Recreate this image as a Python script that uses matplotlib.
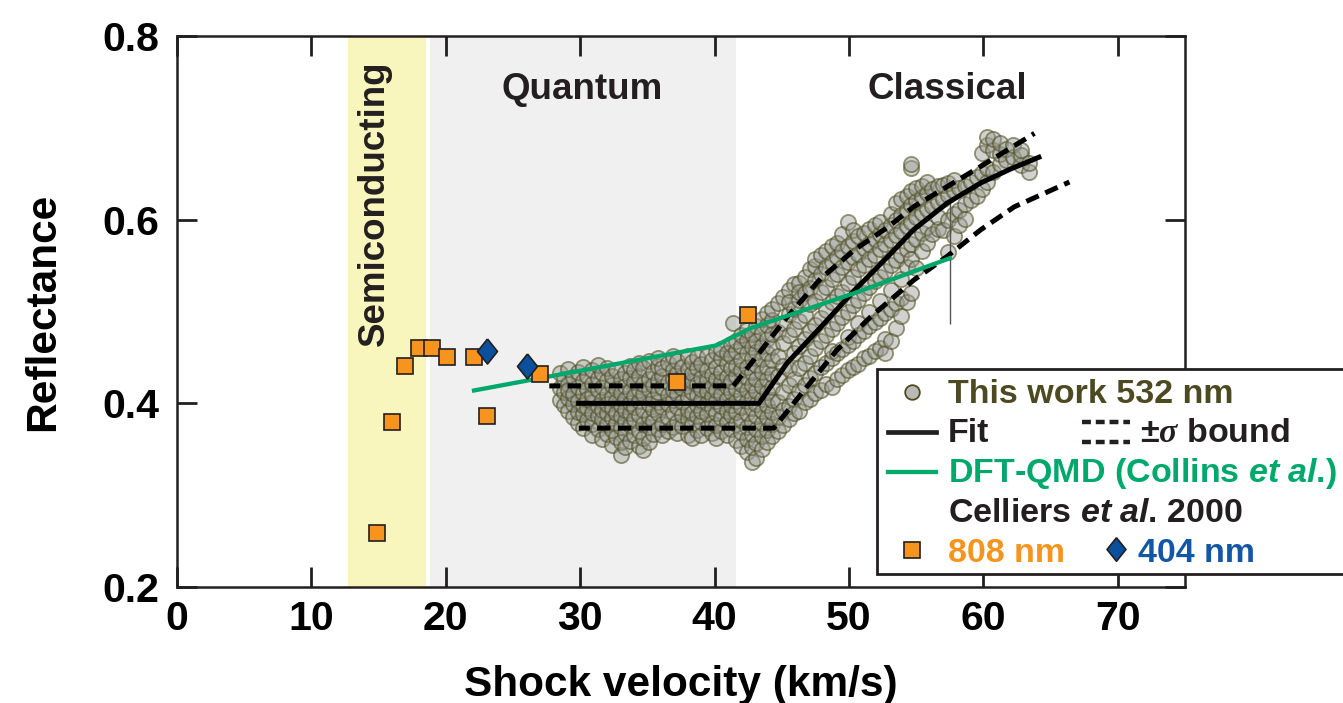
import matplotlib
matplotlib.use("Agg")
import matplotlib.pyplot as plt
from matplotlib.lines import Line2D
from matplotlib.patches import Rectangle

plt.rcParams['font.family'] = ['Liberation Sans', 'DejaVu Sans']
plt.rcParams['font.weight'] = 'bold'
plt.rcParams['mathtext.fontset'] = 'custom'
plt.rcParams['mathtext.rm'] = 'Liberation Sans:bold'
plt.rcParams['mathtext.sf'] = 'Liberation Sans:italic:bold'
plt.rcParams['mathtext.it'] = 'Liberation Serif:italic:bold'

# ---- data -----------------------------------------------------------------
# This work, 532 nm: reflectance samples grouped by shock velocity (km/s)
this_work_cols = [
    (28.5, [0.404, 0.417, 0.433]),
    (28.8, [0.398, 0.426, 0.412]),
    (29.1, [0.392, 0.406, 0.421, 0.437, 0.415]),
    (29.5, [0.385, 0.399, 0.429, 0.410]),
    (29.8, [0.379, 0.403, 0.418, 0.434, 0.391]),
    (30.2, [0.373, 0.388, 0.411, 0.424, 0.440, 0.398]),
    (30.5, [0.382, 0.395, 0.416, 0.430, 0.405]),
    (30.9, [0.366, 0.378, 0.401, 0.409, 0.421, 0.436, 0.390]),
    (31.3, [0.372, 0.386, 0.397, 0.414, 0.428, 0.442]),
    (31.6, [0.361, 0.383, 0.404, 0.418, 0.433, 0.393]),
    (32.0, [0.367, 0.377, 0.389, 0.410, 0.425, 0.439, 0.399]),
    (32.4, [0.355, 0.371, 0.384, 0.395, 0.407, 0.420, 0.430]),
    (32.7, [0.363, 0.379, 0.402, 0.416, 0.436, 0.390]),
    (33.0, [0.344, 0.358, 0.374, 0.386, 0.398, 0.411, 0.427]),
    (33.3, [0.352, 0.368, 0.381, 0.405, 0.419, 0.433, 0.393]),
    (33.7, [0.359, 0.376, 0.389, 0.400, 0.413, 0.428, 0.441]),
    (34.0, [0.365, 0.383, 0.396, 0.408, 0.423, 0.436]),
    (34.4, [0.354, 0.370, 0.387, 0.402, 0.415, 0.430, 0.444]),
    (34.7, [0.349, 0.362, 0.378, 0.393, 0.410, 0.421, 0.438]),
    (35.1, [0.358, 0.374, 0.385, 0.399, 0.416, 0.427, 0.446]),
    (35.4, [0.367, 0.381, 0.394, 0.405, 0.420, 0.434]),
    (35.8, [0.372, 0.389, 0.401, 0.412, 0.425, 0.441, 0.449]),
    (36.1, [0.365, 0.378, 0.396, 0.418, 0.430, 0.438]),
    (36.5, [0.370, 0.385, 0.399, 0.409, 0.423, 0.444]),
    (36.9, [0.374, 0.391, 0.404, 0.415, 0.427, 0.436, 0.451]),
    (37.2, [0.368, 0.380, 0.396, 0.410, 0.421, 0.433, 0.446]),
    (37.6, [0.375, 0.387, 0.401, 0.417, 0.429, 0.440]),
    (38.0, [0.366, 0.383, 0.393, 0.407, 0.419, 0.437, 0.452]),
    (38.3, [0.362, 0.377, 0.390, 0.412, 0.424, 0.433, 0.445]),
    (38.7, [0.371, 0.386, 0.398, 0.409, 0.421, 0.439, 0.450]),
    (39.0, [0.366, 0.380, 0.392, 0.404, 0.416, 0.428, 0.443]),
    (39.4, [0.373, 0.388, 0.400, 0.413, 0.425, 0.436, 0.452]),
    (39.8, [0.368, 0.379, 0.395, 0.408, 0.419, 0.431, 0.447]),
    (40.1, [0.362, 0.376, 0.390, 0.403, 0.414, 0.427, 0.440, 0.456]),
    (40.5, [0.370, 0.384, 0.397, 0.410, 0.423, 0.434, 0.449, 0.459]),
    (40.9, [0.365, 0.380, 0.392, 0.405, 0.418, 0.429, 0.443, 0.455]),
    (41.2, [0.372, 0.387, 0.398, 0.412, 0.424, 0.438, 0.451, 0.465]),
    (41.4, [0.487]),
    (41.6, [0.360, 0.377, 0.391, 0.403, 0.416, 0.430, 0.441, 0.457, 0.468]),
    (42.0, [0.353, 0.369, 0.382, 0.396, 0.409, 0.421, 0.436, 0.447, 0.462, 0.474]),
    (42.4, [0.347, 0.361, 0.374, 0.389, 0.402, 0.414, 0.429, 0.440, 0.455, 0.469, 0.480]),
    (42.8, [0.336, 0.352, 0.367, 0.380, 0.395, 0.407, 0.420, 0.434, 0.449, 0.461, 0.476]),
    (43.1, [0.341, 0.357, 0.372, 0.386, 0.399, 0.413, 0.427, 0.442, 0.456, 0.468, 0.484]),
    (43.5, [0.350, 0.364, 0.379, 0.392, 0.405, 0.419, 0.434, 0.448, 0.462, 0.477, 0.492]),
    (43.9, [0.358, 0.371, 0.385, 0.398, 0.412, 0.426, 0.440, 0.455, 0.470, 0.485, 0.498]),
    (44.3, [0.364, 0.378, 0.391, 0.404, 0.418, 0.432, 0.447, 0.461, 0.476, 0.491, 0.503]),
    (44.7, [0.370, 0.385, 0.401, 0.430, 0.452, 0.478, 0.509]),
    (45.1, [0.376, 0.393, 0.412, 0.441, 0.466, 0.488, 0.516]),
    (45.5, [0.383, 0.397, 0.420, 0.437, 0.474, 0.497, 0.523, 0.510]),
    (45.9, [0.389, 0.405, 0.426, 0.455, 0.481, 0.503, 0.530]),
    (46.3, [0.392, 0.413, 0.438, 0.462, 0.490, 0.512, 0.531, 0.521]),
    (46.7, [0.401, 0.420, 0.444, 0.470, 0.496, 0.520, 0.538]),
    (47.1, [0.405, 0.428, 0.452, 0.479, 0.508, 0.526, 0.546]),
    (47.5, [0.411, 0.433, 0.460, 0.485, 0.511, 0.534, 0.550, 0.557]),
    (47.9, [0.414, 0.440, 0.468, 0.493, 0.521, 0.541, 0.561]),
    (48.3, [0.421, 0.444, 0.474, 0.502, 0.527, 0.548, 0.566]),
    (48.7, [0.418, 0.449, 0.457, 0.481, 0.510, 0.535, 0.554, 0.571]),
    (49.1, [0.427, 0.455, 0.488, 0.517, 0.541, 0.559, 0.575]),
    (49.5, [0.431, 0.459, 0.494, 0.521, 0.548, 0.566, 0.584]),
    (49.9, [0.436, 0.463, 0.472, 0.499, 0.531, 0.554, 0.571, 0.598]),
    (50.3, [0.440, 0.468, 0.507, 0.538, 0.559, 0.577, 0.589]),
    (50.7, [0.443, 0.474, 0.488, 0.513, 0.546, 0.563, 0.582]),
    (51.1, [0.449, 0.479, 0.520, 0.551, 0.569, 0.586]),
    (51.5, [0.451, 0.484, 0.499, 0.527, 0.557, 0.574, 0.590]),
    (51.9, [0.457, 0.489, 0.533, 0.562, 0.579, 0.594]),
    (52.3, [0.460, 0.493, 0.511, 0.538, 0.568, 0.584, 0.597]),
    (52.7, [0.455, 0.470, 0.498, 0.544, 0.573, 0.589]),
    (53.1, [0.468, 0.503, 0.523, 0.551, 0.578, 0.594, 0.606]),
    (53.5, [0.482, 0.509, 0.556, 0.583, 0.600, 0.618]),
    (53.9, [0.495, 0.515, 0.535, 0.562, 0.588, 0.605, 0.622]),
    (54.3, [0.510, 0.548, 0.568, 0.593, 0.611, 0.626]),
    (54.6, [0.520, 0.557, 0.574, 0.598, 0.616, 0.631, 0.656, 0.661]),
    (55.0, [0.547, 0.579, 0.603, 0.620, 0.634]),
    (55.4, [0.566, 0.586, 0.607, 0.625, 0.637]),
    (55.8, [0.575, 0.592, 0.612, 0.629, 0.641]),
    (56.2, [0.584, 0.615, 0.633]),
    (56.6, [0.590, 0.603, 0.619, 0.637]),
    (57.0, [0.589, 0.623, 0.638]),
    (57.4, [0.565, 0.600, 0.627, 0.640]),
    (57.8, [0.582, 0.606, 0.631, 0.643]),
    (58.2, [0.594, 0.611, 0.634]),
    (58.6, [0.601, 0.617, 0.637]),
    (59.1, [0.621, 0.641]),
    (59.5, [0.626, 0.646]),
    (59.9, [0.633, 0.651, 0.673]),
    (60.3, [0.641, 0.656, 0.681, 0.690]),
    (60.7, [0.652, 0.676, 0.688]),
    (61.2, [0.661, 0.672, 0.684]),
    (61.7, [0.665, 0.677]),
    (62.2, [0.668, 0.681]),
    (62.8, [0.660, 0.670, 0.676]),
    (63.4, [0.652, 0.662]),
]
this_work_x = [x for x, ys in this_work_cols for _ in ys]
this_work_y = [y for _, ys in this_work_cols for y in ys]

# Fit and +/- sigma bounds
fit_x = [29.7, 43.3, 45.4, 47.9, 50.4, 52.9, 54.8, 57.3, 59.8, 62.0, 64.3]
fit_y = [0.400, 0.400, 0.444, 0.483, 0.523, 0.560, 0.589, 0.618, 0.640, 0.655, 0.669]
upper_x = [27.7, 41.4, 42.9, 45.4, 47.9, 50.4, 52.9, 54.8, 57.3, 59.8, 63.8]
upper_y = [0.419, 0.419, 0.447, 0.494, 0.536, 0.567, 0.592, 0.614, 0.636, 0.658, 0.694]
lower_x = [29.9, 44.4, 46.65, 49.1, 51.6, 54.8, 57.3, 59.8, 62.3, 66.4]
lower_y = [0.373, 0.373, 0.414, 0.458, 0.494, 0.534, 0.560, 0.589, 0.614, 0.641]

# DFT-QMD (Collins et al.)
dft_x = [22.1, 40.1, 42.7, 50.4, 57.5]
dft_y = [0.414, 0.463, 0.482, 0.520, 0.558]
dft_err_lo = 0.072
dft_err_hi = 0.062

# Celliers et al. 2000
c808_x = [14.9, 16.0, 17.0, 18.0, 19.0, 20.1, 22.1, 23.1, 27.0, 37.2, 42.5]
c808_y = [0.259, 0.380, 0.441, 0.460, 0.460, 0.450, 0.450, 0.386, 0.432, 0.423, 0.496]
c404_x = [23.1, 26.05]
c404_y = [0.457, 0.441]

# Regime bands
semi_band = (12.7, 18.55)
quantum_band = (18.85, 41.6)

# ---- colours ----------------------------------------------------------------
OLIVE = '#4d4a22'
GREEN = '#00a96b'
ORANGE = '#f7941d'
BLUE = '#1456a6'
INK = '#231f20'
DIAMOND = [(0, 1), (0.8, 0), (0, -1), (-0.8, 0), (0, 1)]

W, H = 1343, 703
fig = plt.figure(figsize=(W / 100, H / 100), dpi=100)
ax = fig.add_axes([177 / W, 1 - 587 / H, (1185 - 177) / W, (587 - 36) / H])

ax.axvspan(*semi_band, color='#f8f6bd', lw=0, zorder=0)
ax.axvspan(*quantum_band, color='#eff0ef', lw=0, zorder=0)

ax.scatter(this_work_x, this_work_y, s=120,
           facecolors=[(0.60, 0.61, 0.59, 0.45)],
           edgecolors=[(0.32, 0.32, 0.14, 0.6)], linewidths=1.3, zorder=2)

DASH = (0.5, (2.7, 1.45))
ax.plot(fit_x, fit_y, color='black', lw=3.6, solid_joinstyle='round',
        solid_capstyle='butt', zorder=3)
ax.plot(upper_x, upper_y, color='black', lw=3.6, ls=DASH, zorder=3)
ax.plot(lower_x, lower_y, color='black', lw=3.6, ls=DASH, zorder=3)

ax.plot(dft_x, dft_y, color=GREEN, lw=3.1, zorder=3)
ax.errorbar([dft_x[-1]], [dft_y[-1]], yerr=[[dft_err_lo], [dft_err_hi]],
            fmt='none', ecolor='#555555', elinewidth=1.0, capsize=0, zorder=2.5)

ax.plot(c808_x, c808_y, ls='none', marker='s', ms=11.5, mfc=ORANGE,
        mec=INK, mew=1.2, zorder=4)
ax.plot(c404_x, c404_y, ls='none', marker=DIAMOND, ms=18, mfc='#0b4f9f',
        mec=INK, mew=1.2, zorder=4)

ax.set_xlim(0, 75)
ax.set_ylim(0.2, 0.8)
ax.set_xticks(range(0, 71, 10))
ax.set_yticks([0.2, 0.4, 0.6, 0.8])
ax.set_yticklabels(['0.2', '0.4', '0.6', '0.8'])
ax.tick_params(direction='in', length=14.5, width=2.0, top=True, right=True,
               labelsize=29.5, color=INK)
ax.tick_params(axis='y', pad=13)
ax.tick_params(axis='x', pad=9)
for lab in ax.get_xticklabels() + ax.get_yticklabels():
    lab.set_fontweight('bold')
for sp in ax.spines.values():
    sp.set_linewidth(1.8)
    sp.set_color(INK)

ax.set_xlabel('Shock velocity (km/s)', fontsize=30.5, fontweight='bold')
ax.set_ylabel('Reflectance', fontsize=30.5, fontweight='bold')
ax.xaxis.set_label_coords(0.5, -0.142)
ax.yaxis.set_label_coords(-0.113, 0.5)

ax.text(15.36, 0.4624, 'Semiconducting', rotation=90, rotation_mode='anchor',
        ha='left', va='baseline', fontsize=26.5, fontweight='bold', color=INK)
ax.text(30.18, 0.7314, 'Quantum', ha='center', va='baseline', fontsize=26.5,
        fontweight='bold', color=INK)
ax.text(57.28, 0.7314, 'Classical', ha='center', va='baseline', fontsize=26.5,
        fontweight='bold', color=INK)

# ---- legend box ---------------------------------------------------------------
def fx(px):
    return px / W


def fy(py):
    return 1 - py / H


fig.add_artist(Rectangle((fx(877), fy(574)), fx(1360) - fx(877), fy(369) - fy(574),
                         transform=fig.transFigure, fc='white', ec=INK, lw=2.0,
                         zorder=10))


def handle_line(x0, x1, y, **kw):
    fig.add_artist(Line2D([fx(x0), fx(x1)], [fy(y), fy(y)],
                          transform=fig.transFigure, zorder=11, **kw))


def handle_marker(x, y, **kw):
    fig.add_artist(Line2D([fx(x)], [fy(y)], ls='none',
                          transform=fig.transFigure, zorder=11, **kw))


LEG_FS = 24.5
TX = 948

handle_marker(912, 392, marker='o', ms=10.5, mfc='#b9bab6', mec=OLIVE, mew=1.3)
fig.text(fx(TX), fy(403), 'This work 532 nm', color=OLIVE, fontsize=LEG_FS,
         fontweight='bold', ha='left', va='baseline', zorder=12)

handle_line(888, 936, 432, color=INK, lw=3.4)
fig.text(fx(TX), fy(442), 'Fit', color=INK, fontsize=LEG_FS,
         fontweight='bold', ha='left', va='baseline', zorder=12)
handle_line(1082, 1130, 421.5, color=INK, lw=3.2, ls=(0, (2.0, 1.1)))
handle_line(1082, 1130, 441.5, color=INK, lw=3.2, ls=(0, (2.0, 1.1)))
fig.text(fx(1140), fy(442), r'±$\sigma$ bound', color=INK, fontsize=LEG_FS,
         fontweight='bold', ha='left', va='baseline', zorder=12)

handle_line(888, 936, 472, color=GREEN, lw=3.1)
fig.text(fx(TX), fy(482), r'DFT-QMD (Collins $\mathsf{et\ al}$.)', color=GREEN,
         fontsize=LEG_FS, fontweight='bold', ha='left', va='baseline', zorder=12)

fig.text(fx(TX), fy(522), r'Celliers $\mathsf{et\ al}$. 2000', color=INK,
         fontsize=LEG_FS, fontweight='bold', ha='left', va='baseline', zorder=12)

handle_marker(912, 550, marker='s', ms=11.5, mfc=ORANGE, mec=INK, mew=1.2)
fig.text(fx(TX), fy(562), '808 nm', color=ORANGE, fontsize=LEG_FS,
         fontweight='bold', ha='left', va='baseline', zorder=12)
handle_marker(1116, 549, marker=DIAMOND, ms=17, mfc='#0b4f9f', mec=INK, mew=1.2)
fig.text(fx(1138), fy(562), '404 nm', color=BLUE, fontsize=LEG_FS,
         fontweight='bold', ha='left', va='baseline', zorder=12)

fig.savefig('out.png', dpi=100, facecolor='white')
